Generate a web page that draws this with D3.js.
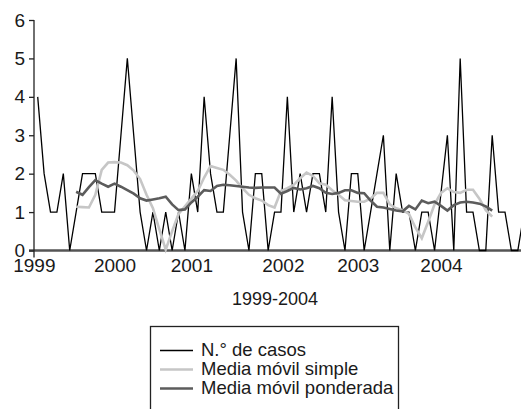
<!DOCTYPE html>
<html><head><meta charset="utf-8">
<script src="https://cdn.jsdelivr.net/npm/d3@7"></script>
<style>
body{margin:0;background:#fff}
svg{display:block}
text{font-family:"Liberation Sans",Arial,Helvetica,sans-serif;fill:#1a1a1a}
</style>
</head><body>
<svg id="c" width="521" height="409"></svg>
<script>
// Monthly case counts (index 0 = first month of 1999)
const casos = [4,2,1,1,2,0,1,2,2,2, 1,1,1,3,5,3,1,0,1,0, 1,0,1,0,2,1,4,2,1,1,
  3,5,1,0,2,2,0,1,1,4, 1,2,1,2,2,1,4,1,0,2, 2,0,1,2,3,0,2,1,1,0,
  1,1,0,1.5,3,0,5,1,1,0, 0,3,1,1,0,0,1];
// Moving averages start at month index 6
const mediaStart = 6;
const mediaSimple = [1.14,1.13,1.12,1.45,2.1,2.29,2.3,2.29,2.22,2.08,
  1.86,1.45,1.1,0.55,0.02,0.5,0.95,1.15,1.35,1.55,
  1.9,2.2,2.15,2.1,1.97,1.82,1.62,1.45,1.36,1.3,
  1.18,1.12,1.55,1.62,1.71,1.88,2.03,1.94,1.75,1.71,
  1.57,1.45,1.31,1.29,1.27,1.27,1.35,1.5,1.5,1.2,
  1.1,1.05,0.95,0.6,0.32,0.75,1.2,1.5,1.62,1.52,
  1.5,1.58,1.58,1.35,1.05,0.88];
const mediaPonderada = [1.53,1.45,1.65,1.83,1.74,1.66,1.74,1.66,1.57,1.48,
  1.36,1.3,1.33,1.36,1.4,1.2,1.05,1.07,1.25,1.4,
  1.57,1.55,1.68,1.71,1.7,1.68,1.66,1.64,1.63,1.64,
  1.64,1.64,1.48,1.55,1.63,1.59,1.62,1.68,1.62,1.5,
  1.47,1.5,1.57,1.57,1.5,1.49,1.3,1.14,1.12,1.08,
  1.04,1.02,1.16,1.07,1.3,1.23,1.27,1.16,1.04,1.18,
  1.25,1.27,1.25,1.22,1.15,1.04];
const yearLabels = ["1999","2000","2001","2002","2003","2004"];
const yearTickIndex = [-0.6, 12, 24, 38.3, 50, 63];
const yTicks = [0,1,2,3,4,5,6];
const xTitle = "1999-2004";
const legendLabels = ["N.\u00b0 de casos","Media m\u00f3vil simple","Media m\u00f3vil ponderada"];
const seriesColors = ["#000000","#c6c6c6","#5c5c5c"];
const seriesWidths = [1.3,2.6,2.6];

const svg = d3.select("#c");
const x = d3.scaleLinear().domain([-0.58, 75.5]).range([34, 521]);
const y = d3.scaleLinear().domain([0, 6]).range([250.5, 20]);
const FS = 19;

// x axis
const xAxis = svg.append("g").attr("transform", `translate(0,${y(0)})`)
  .call(d3.axisBottom(x).tickValues(yearTickIndex)
    .tickFormat((d,i)=>yearLabels[i]).tickSize(0).tickPadding(8));
xAxis.select(".domain").remove();
xAxis.selectAll("text").attr("font-size", FS).style("font-family", "Liberation Sans, Arial, sans-serif").attr("fill","#1a1a1a");
svg.append("line").attr("x1", x(-0.58)-5).attr("x2", 521).attr("y1", y(0)).attr("y2", y(0))
  .attr("stroke", "#555").attr("stroke-width", 2.3);

// y axis
const yAxis = svg.append("g").attr("transform", `translate(${x(-0.58)},0)`)
  .call(d3.axisLeft(y).tickValues(yTicks).tickFormat(d3.format("d")).tickSize(5).tickPadding(4));
yAxis.select(".domain").remove();
yAxis.selectAll("line").attr("stroke", "#222").attr("stroke-width", 1.3);
yAxis.selectAll("text").attr("font-size", FS).style("font-family", "Liberation Sans, Arial, sans-serif").attr("fill","#1a1a1a");
svg.append("line").attr("x1", x(-0.58)).attr("x2", x(-0.58)).attr("y1", y(6)).attr("y2", y(0)+7)
  .attr("stroke", "#222").attr("stroke-width", 1.3);

// axis title
svg.append("text").attr("x", 275).attr("y", 305).attr("text-anchor", "middle")
  .attr("font-size", 18).text(xTitle);

// series
const line = d3.line().x(d=>x(d[0])).y(d=>y(d[1]));
const seriesData = [
  casos.map((v,i)=>[i,v]),
  mediaSimple.map((v,i)=>[i+mediaStart,v]),
  mediaPonderada.map((v,i)=>[i+mediaStart,v])
];
seriesData.forEach((data,k)=>{
  svg.append("path").datum(data).attr("d", line).attr("fill","none")
    .attr("stroke", seriesColors[k]).attr("stroke-width", seriesWidths[k])
    .attr("stroke-linejoin", "miter");
});

// legend
const lg = svg.append("g");
lg.append("rect").attr("x", 150.5).attr("y", 326.5).attr("width", 248).attr("height", 120)
  .attr("fill", "#fff").attr("stroke", "#222").attr("stroke-width", 1.3);
legendLabels.forEach((lab,k)=>{
  const by = 355.5 + k*19;
  lg.append("line").attr("x1", 160).attr("x2", 193).attr("y1", by-5).attr("y2", by-5)
    .attr("stroke", seriesColors[k]).attr("stroke-width", seriesWidths[k]);
  lg.append("text").attr("x", 201).attr("y", by).attr("font-size", 18.5).text(lab);
});
</script>
</body></html>
